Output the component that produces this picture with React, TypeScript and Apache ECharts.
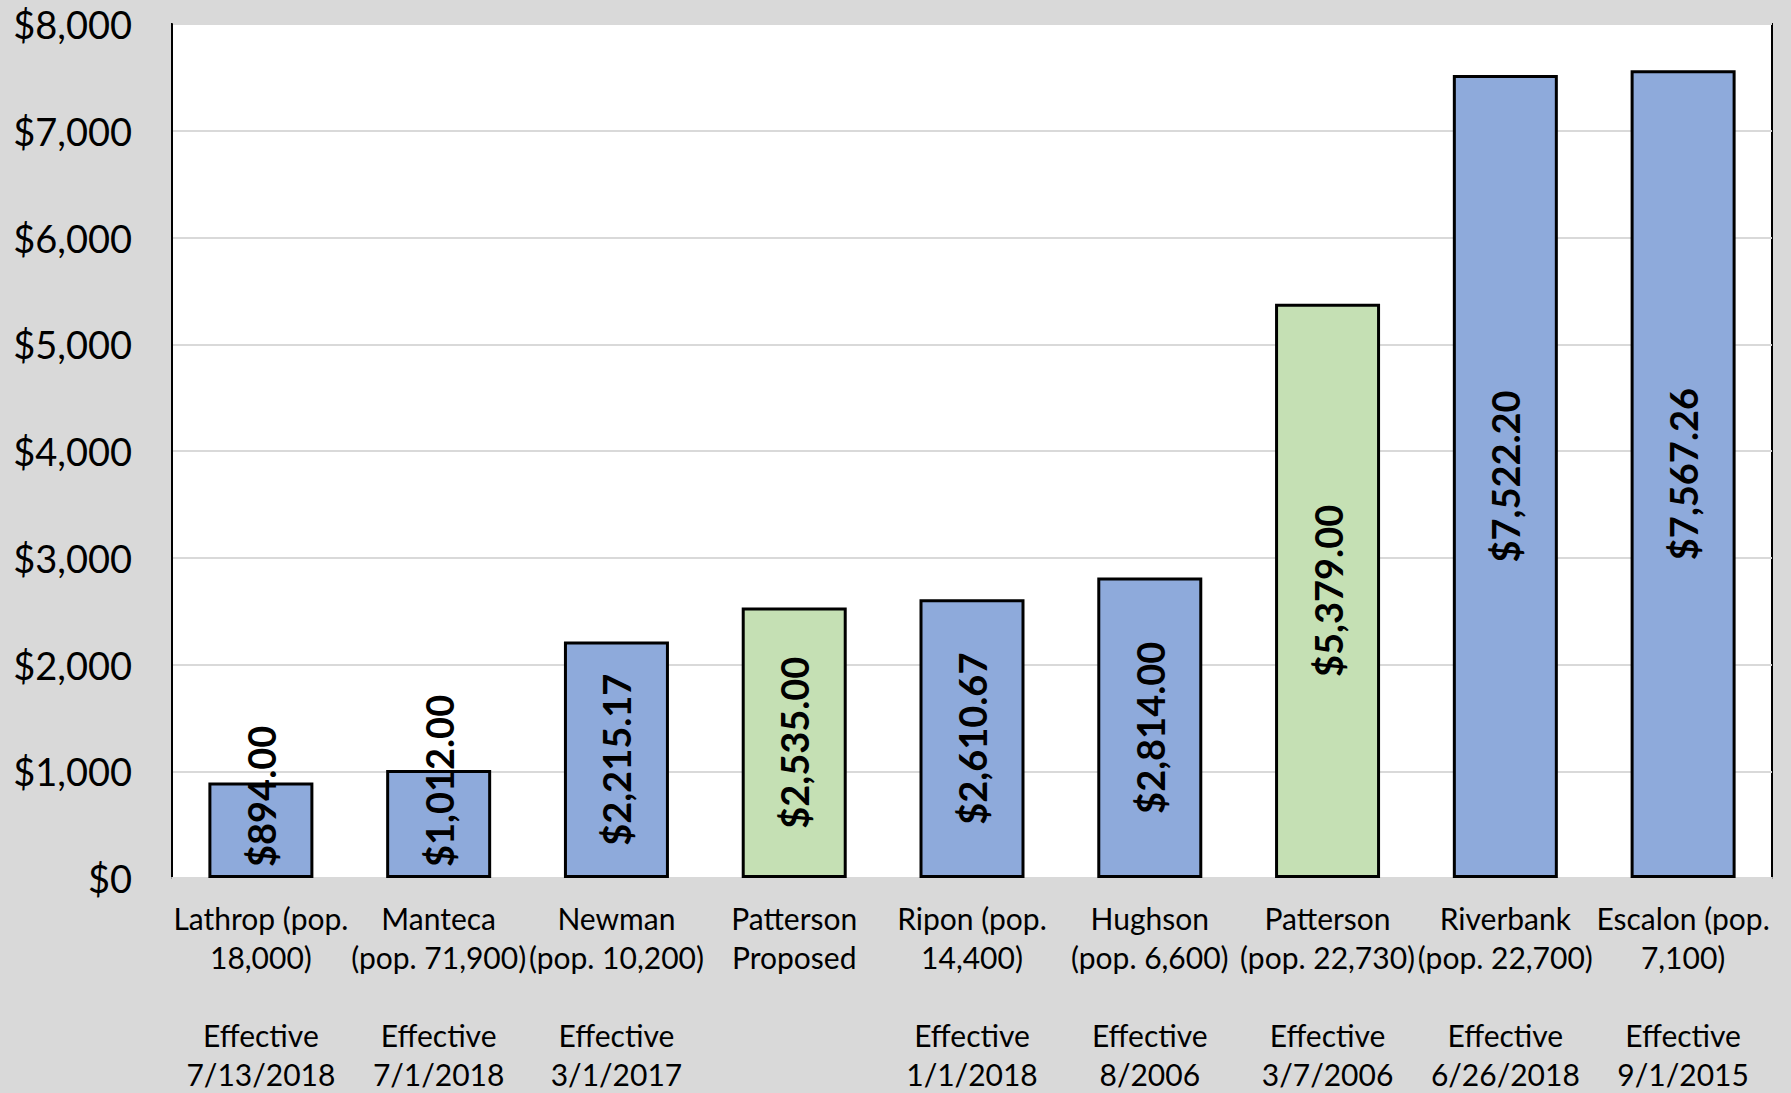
import React, { useEffect, useRef } from "react";
import * as echarts from "echarts";

const categories = [
  "Lathrop (pop.\n18,000)\n\nEffective\n7/13/2018",
  "Manteca\n(pop. 71,900)\n\nEffective\n7/1/2018",
  "Newman\n(pop. 10,200)\n\nEffective\n3/1/2017",
  "Patterson\nProposed",
  "Ripon (pop.\n14,400)\n\nEffective\n1/1/2018",
  "Hughson\n(pop. 6,600)\n\nEffective\n8/2006",
  "Patterson\n(pop. 22,730)\n\nEffective\n3/7/2006",
  "Riverbank\n(pop. 22,700)\n\nEffective\n6/26/2018",
  "Escalon (pop.\n7,100)\n\nEffective\n9/1/2015",
];
const values = [894, 1012, 2215.17, 2535, 2610.67, 2814, 5379, 7522.2, 7567.26];
const isPatterson = [false, false, false, true, false, false, true, false, false];
const yTicks = { min: 0, max: 8000, interval: 1000 };

const BLUE = "#8EAADB";
const GREEN = "#C5E0B4";
const FONT = "Lato, sans-serif";

const money2 = (v: number) =>
  "$" + v.toLocaleString("en-US", { minimumFractionDigits: 2, maximumFractionDigits: 2 });

export default function App() {
  const ref = useRef<HTMLDivElement>(null);
  useEffect(() => {
    if (!ref.current) return;
    const chart = echarts.init(ref.current, undefined, { renderer: "svg" });
    const labelFont = { fontFamily: FONT, fontSize: 38, fontWeight: "bold" as const, color: "#000" };
    const data = values.map((v, i) => ({
      value: v,
      itemStyle: { color: isPatterson[i] ? GREEN : BLUE },
      label:
        v < 1500
          ? { position: "insideBottom", distance: 11, rotate: 90, align: "left", verticalAlign: "middle" }
          : { position: "inside", rotate: 90, align: "center", verticalAlign: "middle" },
    }));
    chart.setOption({
      animation: false,
      backgroundColor: "#D9D9D9",
      grid: {
        left: 172,
        top: 24,
        right: 19,
        bottom: 211,
        show: true,
        backgroundColor: "#FFFFFF",
        borderColor: "#000000",
        borderWidth: 2,
      },
      xAxis: {
        type: "category",
        data: categories,
        axisLine: { show: true, lineStyle: { color: "#D9D9D9", width: 2 } },
        axisTick: { show: false },
        axisLabel: {
          interval: 0,
          margin: 20,
          fontFamily: FONT,
          fontSize: 30,
          lineHeight: 39,
          color: "#000",
          verticalAlign: "top",
          align: "center",
        },
      },
      yAxis: {
        type: "value",
        min: yTicks.min,
        max: yTicks.max,
        interval: yTicks.interval,
        axisLine: { show: true, lineStyle: { color: "#000", width: 2 } },
        axisTick: { show: false },
        splitLine: { lineStyle: { color: "#D9D9D9", width: 2 } },
        axisLabel: {
          margin: 40,
          fontFamily: FONT,
          fontSize: 38,
          color: "#000",
          formatter: (v: number) => "$" + v.toLocaleString("en-US"),
        },
      },
      series: [
        {
          type: "bar",
          data,
          barWidth: 105,
          itemStyle: { borderColor: "#000", borderWidth: 3 },
          label: { show: true, formatter: (p: any) => money2(p.value), ...labelFont },
        },
      ],
    });
    return () => chart.dispose();
  }, []);
  return (
    <div
      ref={ref}
      style={{ position: "fixed", left: 0, top: 0, width: "1791px", height: "1093px", background: "#D9D9D9" }}
    />
  );
}
